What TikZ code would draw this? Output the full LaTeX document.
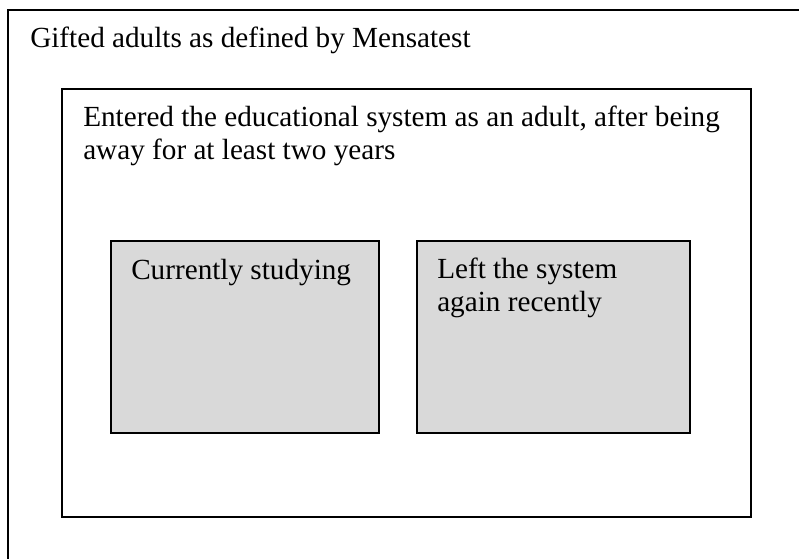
\documentclass[tikz,border=0pt]{standalone}
\usepackage{fontspec}
\setmainfont{Liberation Serif}
\begin{document}
\begin{tikzpicture}[x=0.75pt,y=-0.75pt,
  frame/.style={draw=black,line width=1.5pt},
  box/.style={frame,rectangle,anchor=north west,inner sep=0pt},
  graybox/.style={box,fill=black!15},
  label/.style={anchor=base west,inner sep=0pt,align=left,
    font=\fontsize{21.9}{24.9}\selectfont}]
\useasboundingbox (0,0) rectangle (799,559);
\clip (0,0) rectangle (799,559);
\fill[white] (0,0) rectangle (799,559);
% outer (clipped) box
\draw[frame] (8,580) -- (8,10) -- (820,10);
\node[label] (t1) at (30,48) {Gifted adults as defined by Mensatest};
% inner box
\node[box,minimum width=516.75pt,minimum height=321pt] (inner) at (61,88) {};
\node[label] (t2) at (83,160) {Entered the educational system as an adult, after being\\away for at least two years};
% gray boxes
\node[graybox,minimum width=201pt,minimum height=144pt] (cur) at (110,240) {};
\node[graybox,minimum width=204.75pt,minimum height=144pt] (left) at (416,240) {};
\node[label] (t3) at (131,280) {Currently studying};
\node[label] (t4) at (437,312) {Left the system\\again recently};
\end{tikzpicture}
\end{document}
